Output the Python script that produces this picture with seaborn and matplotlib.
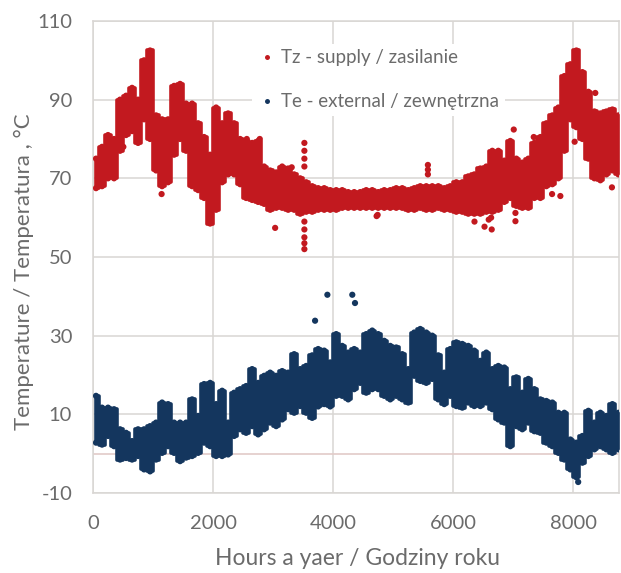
import numpy as np
import pandas as pd
import matplotlib
matplotlib.use("Agg")
import matplotlib.pyplot as plt
import seaborn as sns

# Centres of consecutive 100-hour windows over the year
HOURS = np.arange(50, 8760, 100)

# Supply temperature Tz: lower / upper edge of the hourly readings in each window
TZ_LOW = [67.5, 68, 70, 70, 77, 81, 82, 79, 85, 80,
          72, 68, 69, 76, 80, 77, 68, 67, 65, 58.5,
          62, 69, 71, 71, 68.5, 65, 64.5, 64, 63.5, 62,
          62.5, 62.5, 62, 62, 61, 61.5, 61.5, 62, 62, 62,
          62, 62.5, 62.5, 62.5, 62.5, 62.5, 62.5, 62.5, 62.5, 62.5,
          62.5, 62.5, 62, 62, 62.5, 62, 62, 62.5, 62, 62,
          61.5, 61.5, 61, 61, 61, 61.5, 61.5, 62, 64, 65,
          63, 62.5, 62.5, 65, 65, 68, 68.5, 70, 77, 85,
          83, 80, 75, 70, 69.5, 71, 72, 71]
TZ_HIGH = [75, 78, 81, 80, 90, 91, 93, 90, 100, 102.5,
           86, 85, 85, 93.5, 94, 89, 89, 84, 80.5, 76,
           88, 84, 86.5, 84, 80, 79.5, 79, 79.5, 73, 72,
           71.5, 73, 72.5, 71, 70, 69, 68, 67.5, 67.5, 67,
           67, 67, 66.5, 66.5, 66.5, 67, 67, 66.5, 67, 67,
           67.5, 67.5, 67, 67.5, 68, 68, 68, 68, 67.5, 68,
           69, 69, 70.5, 71, 72.5, 73, 77, 77, 74.5, 79.5,
           75, 74, 75, 79, 80.5, 84, 86, 88, 96, 99,
           102.5, 97, 92, 87, 86.5, 87, 87.5, 86]

# External temperature Te: lower / upper edge in each window
TE_LOW = [2.8, 2.3, 4.5, 1.9, -1.5, -1.1, -1.5, -0.6, -4, -4.5,
          -1.5, 0.2, 1.9, 0.2, -1.9, -1, -0.6, 0.2, 2.8, 1.9,
          -0.6, -0.6, -0.2, 4.5, 6.2, 5.3, 7, 4.9, 6.2, 7.9,
          7, 8.7, 11.3, 10.4, 12.1, 10.4, 9.1, 12, 12.6, 12,
          14.7, 14.7, 13.8, 16.4, 18, 15.5, 16.4, 16.4, 14.7, 13.8,
          14.7, 13.8, 13, 19.8, 18.5, 18, 19, 13.8, 12.6, 14.7,
          12.1, 11.7, 13, 12.1, 12.1, 13, 11.3, 8.7, 7.9, 1.9,
          7, 6.2, 7.9, 5.7, 5.3, 2.8, 1.9, 0.2, -1.5, -4,
          -6, -2.3, -0.6, 1.1, 1.9, 1.1, 0.2, 1.1]
TE_HIGH = [14.7, 11.7, 11.7, 11.3, 6.2, 5.3, 3.2, 6.2, 6.2, 7,
           7.9, 13, 12.6, 7.9, 7.9, 7.9, 13.8, 9.6, 17.7, 18,
           12.6, 16, 7.9, 15.5, 16.4, 17.2, 21.5, 18, 19.8, 20.6,
           19.8, 21, 20.6, 25.3, 21.5, 22.3, 25, 26.6, 26.2, 23.2,
           30.4, 27.4, 25.7, 26.6, 25.7, 30.4, 31.3, 30.4, 28.7, 27.4,
           27, 25.3, 21.5, 30.8, 31.7, 30.8, 30, 25, 20.6, 26.6,
           28.3, 27.9, 27.4, 26.2, 23.6, 25.7, 21.5, 22.3, 21.9, 16.4,
           19.4, 15.5, 19, 16.4, 13.8, 13.4, 13, 10.4, 10.4, 3.6,
           2.8, 4.5, 10.9, 7.9, 10.4, 9.6, 12.6, 10.4]

# Isolated readings lying away from the main band
TZ_OUT_H = [505, 1142, 2561, 2777, 3033, 3309,
            3520, 3520, 3520, 3520, 3520, 3520, 3520, 3520, 3520,
            4723, 4740, 5577, 5577, 5577,
            6353, 6520, 6590, 6630, 6640, 7007, 7035, 7035,
            7340, 7340, 7340, 7645, 7783, 8021, 8365, 8642]
TZ_OUT_T = [78, 66, 80, 80, 57.4, 72.8,
            79, 77, 75, 73, 59, 57, 55, 53.5, 52,
            60.4, 60.7, 73.4, 72.2, 71,
            59, 57.7, 59.5, 60, 57, 82.4, 61.2, 59.1,
            80.5, 78, 76.3, 66, 65.5, 79.3, 91.7, 67.7]
TE_OUT_H = [3698, 3903, 4318, 4363, 8080]
TE_OUT_T = [33.8, 40.4, 40.4, 38.3, -7.2]

SERIES = ["Tz - supply / zasilanie", "Te - external / zewnętrzna"]
COLORS = ["#C2191F", "#14365E"]
X_TICKS = [0, 2000, 4000, 6000, 8000]
Y_TICKS = [-10, 10, 30, 50, 70, 90, 110]

TEXT = "#6b6b6b"
GRID = "#d9d6d3"

sns.set_theme(style="whitegrid")
plt.rcParams["font.family"] = ["Lato", "DejaVu Sans"]
plt.rcParams["axes.unicode_minus"] = False

# Long-form table of the band edges and the isolated readings
frames = []
for name, lo, hi, oh, ot in [
    (SERIES[0], TZ_LOW, TZ_HIGH, TZ_OUT_H, TZ_OUT_T),
    (SERIES[1], TE_LOW, TE_HIGH, TE_OUT_H, TE_OUT_T),
]:
    frames.append(pd.DataFrame({"hour": HOURS, "temp": lo, "series": name}))
    frames.append(pd.DataFrame({"hour": HOURS, "temp": hi, "series": name}))
    frames.append(pd.DataFrame({"hour": oh, "temp": ot, "series": name}))
df = pd.concat(frames, ignore_index=True)

fig, ax = plt.subplots(figsize=(6.21, 5.73), dpi=100)
fig.subplots_adjust(left=0.1498, right=0.9968, top=0.9634, bottom=0.1396)

# Reference line at 0 °C
ax.axhline(0, color="#e2cbc8", lw=1.2, zorder=1)

# Dense hourly band of each series, one step per window
for lo, hi, col in [(TZ_LOW, TZ_HIGH, COLORS[0]), (TE_LOW, TE_HIGH, COLORS[1])]:
    poly = ax.fill_between(HOURS, lo, hi, step="mid", color=col, lw=2.6,
                           edgecolor=col, zorder=3)
    poly.set_joinstyle("round")

sns.scatterplot(data=df, x="hour", y="temp", hue="series", hue_order=SERIES,
                palette=COLORS, s=20, linewidth=0, ax=ax, zorder=4)

ax.set_xlim(0, 8760)
ax.set_ylim(-10, 110)
ax.set_xticks(X_TICKS)
ax.set_yticks(Y_TICKS)
ax.grid(True, color=GRID, lw=1.1, zorder=0)
ax.set_axisbelow(True)
for sp in ax.spines.values():
    sp.set_visible(True)
    sp.set_color(GRID)
    sp.set_linewidth(1.1)

ax.tick_params(axis="both", length=0, labelsize=14.5, labelcolor=TEXT)
ax.tick_params(axis="x", pad=16)
ax.tick_params(axis="y", pad=15)

ax.set_xlabel("Hours a yaer / Godziny roku", fontsize=16.5, color=TEXT)
ax.set_ylabel("Temperature / Temperatura , °C", fontsize=16, color=TEXT)
ax.xaxis.set_label_coords(0.502, -0.116)
ax.yaxis.set_label_coords(-0.112, 0.468)

leg = ax.legend(loc="upper left", bbox_to_anchor=(0.285, 0.972), frameon=True,
                facecolor="white", edgecolor="none", framealpha=1,
                fontsize=13.5, labelcolor=TEXT, markerscale=0.8,
                labelspacing=1.45, handletextpad=0.25, handlelength=1.0,
                borderpad=0.3, title=None)
leg.set_zorder(5)

fig.savefig("out.png", dpi=100, facecolor="white")
